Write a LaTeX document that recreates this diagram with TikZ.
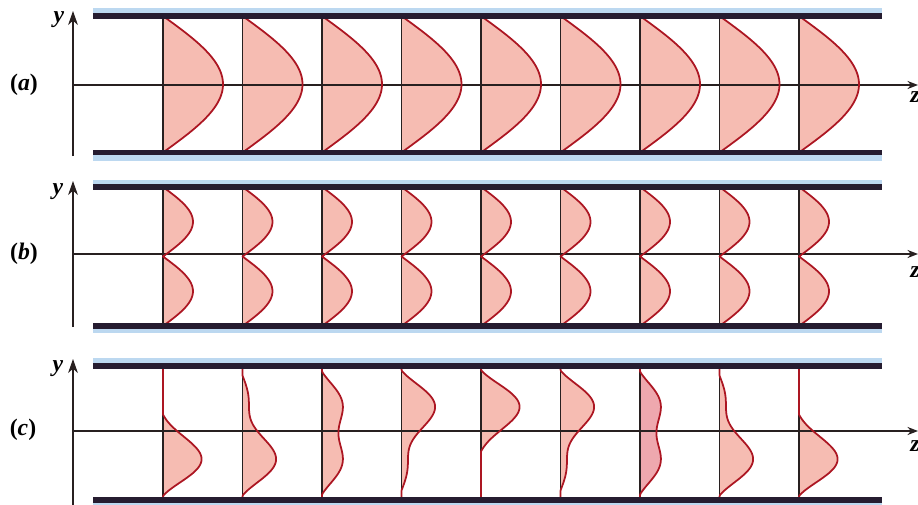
\documentclass[tikz,border=0pt]{standalone}
\usepackage{fontspec}
\setmainfont{Liberation Serif}
\usetikzlibrary{arrows.meta}
\definecolor{plate}{RGB}{38,28,48}
\definecolor{glow}{RGB}{188,216,240}
\definecolor{pinkfill}{RGB}{246,188,178}
\definecolor{pinkdark}{RGB}{238,168,174}
\definecolor{curve}{RGB}{172,22,34}
\definecolor{ink}{RGB}{40,32,32}
\begin{document}
\begin{tikzpicture}[x=0.02cm,y=-0.02cm,
  plateline/.style={draw=plate,line width=2.9pt},
  glowband/.style={fill=glow,draw=none},
  axisline/.style={draw=ink,line width=0.65pt},
  yarrow/.style={axisline,-{Stealth[length=8pt,width=5.6pt,inset=2.5pt]}},
  zarrow/.style={axisline,-{Stealth[length=6pt,width=4.6pt]}},
  profline/.style={draw=ink,line width=0.7pt},
  profcurve/.style={draw=curve,line width=1pt,line join=round},
  lab/.style={font=\fontsize{13.5}{16}\selectfont\bfseries,inner sep=0pt},
  declare function={Ic(\s,\p)=1.3924*sin(180*\s)*sin(180*\s)+sin(360*\s)*sin(360*\s)+2.36*cos(\p)*sin(180*\s)*sin(360*\s);
    Fc(\s,\p)=13.2*(max(Ic(\s,\p)-0.1,0.0001))^0.85;}
]
\useasboundingbox (0,0) rectangle (918,504);

% ---------- panel (a) ----------
\fill[glowband] (93,8) rectangle (882,13.5);
\fill[glowband] (93,155) rectangle (882,160.5);
\foreach \k in {0,...,8} {
  \pgfmathsetmacro\xx{163+79.5*\k}
  \fill[pinkfill] (\xx,16) -- plot[domain=0:1,samples=61] ({\xx+60*sin(180*\x)},{16+136.5*\x}) -- cycle;
}
\draw[yarrow] (73,156) -- (73,11);
\draw[zarrow] (73,85) -- (918,85);
\foreach \k in {0,...,8} {
  \pgfmathsetmacro\xx{163+79.5*\k}
  \draw[profline] (\xx,16) -- (\xx,152.5);
  \draw[profcurve] plot[domain=0:1,samples=61] ({\xx+60*sin(180*\x)},{16+136.5*\x});
}
\draw[plateline] (93,16) -- (882,16);
\draw[plateline] (93,152.5) -- (882,152.5);
\node[lab] (ya) at (59,20) {\textit{y}};
\node[lab] (la) at (24,85) {(\textit{a})};
\node[lab,anchor=west] (za) at (910,97) {\textit{z}};

% ---------- panel (b) ----------
\fill[glowband] (93,180) rectangle (882,185);
\fill[glowband] (93,328) rectangle (882,333);
\foreach \k in {0,...,8} {
  \pgfmathsetmacro\xx{163+79.5*\k}
  \fill[pinkfill] (\xx,187) -- plot[domain=0:1,samples=61] ({\xx+30*abs(sin(360*\x))},{187+139*\x}) -- cycle;
}
\draw[yarrow] (73,327) -- (73,181);
\draw[zarrow] (73,254) -- (918,254);
\foreach \k in {0,...,8} {
  \pgfmathsetmacro\xx{163+79.5*\k}
  \draw[profline] (\xx,187) -- (\xx,326);
  \draw[profcurve] plot[domain=0:1,samples=61] ({\xx+30*abs(sin(360*\x))},{187+139*\x});
}
\draw[plateline] (93,187) -- (882,187);
\draw[plateline] (93,326) -- (882,326);
\node[lab] (yb) at (58,192) {\textit{y}};
\node[lab] (lb) at (24,254) {(\textit{b})};
\node[lab,anchor=west] (zb) at (910,272) {\textit{z}};

% ---------- panel (c) ----------
\fill[glowband] (93,357.5) rectangle (882,363.5);
\fill[glowband] (93,502.5) rectangle (882,508);
\foreach \k in {0,...,8} {
  \pgfmathsetmacro\xx{163+79.5*\k}
  \pgfmathsetmacro\ph{180-45*\k}
  \ifnum\k=6 \def\fc{pinkdark}\else\def\fc{pinkfill}\fi
  \fill[\fc] (\xx,366) -- plot[domain=0:1,samples=81] ({\xx+Fc(\x,\ph)},{366+134*\x}) -- cycle;
}
\draw[yarrow] (73,510) -- (73,359);
\draw[zarrow] (73,431) -- (918,431);
\foreach \k in {0,...,8} {
  \pgfmathsetmacro\xx{163+79.5*\k}
  \pgfmathsetmacro\ph{180-45*\k}
  \draw[profline] (\xx,366) -- (\xx,500);
  \draw[profcurve] plot[domain=0:1,samples=81] ({\xx+Fc(\x,\ph)},{366+134*\x});
}
\draw[plateline] (93,366) -- (882,366);
\draw[plateline] (93,500) -- (882,500);
\node[lab] (yc) at (58,369) {\textit{y}};
\node[lab] (lc) at (23,430) {(\textit{c})};
\node[lab,anchor=west] (zc) at (910,446) {\textit{z}};
\end{tikzpicture}
\end{document}
